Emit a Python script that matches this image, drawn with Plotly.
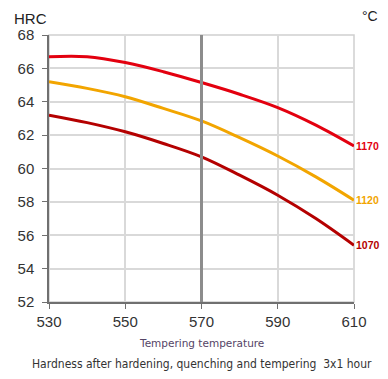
import plotly.graph_objects as go

temps = [530, 540, 550, 560, 570, 580, 590, 600, 610]
hrc_1170 = [66.7, 66.7, 66.35, 65.8, 65.15, 64.45, 63.65, 62.6, 61.35]
hrc_1120 = [65.2, 64.8, 64.3, 63.6, 62.85, 61.85, 60.75, 59.5, 58.1]
hrc_1070 = [63.2, 62.75, 62.2, 61.5, 60.7, 59.6, 58.4, 57.0, 55.4]
series = [("1170", hrc_1170, "#e3000f"), ("1120", hrc_1120, "#f2a500"), ("1070", hrc_1070, "#b40000")]
x_ticks = [530, 550, 570, 590, 610]
y_ticks = [52, 54, 56, 58, 60, 62, 64, 66, 68]

fig = go.Figure()
for name, vals, col in series:
    fig.add_trace(go.Scatter(x=temps, y=vals, mode="lines", line=dict(color=col, width=3, shape="spline"),
                             name=name, showlegend=False, hoverinfo="skip", cliponaxis=False))
    fig.add_annotation(x=temps[-1], y=vals[-1], text="<b>%s</b>" % name, showarrow=False,
                       xanchor="left", xshift=0, font=dict(color=col, size=10.5, family="Arial"))

fig.add_shape(type="line", x0=570, x1=570, y0=52, y1=68, xref="x", yref="y",
              line=dict(color="#8c8c8c", width=3), layer="above")

fig.add_annotation(xref="paper", yref="paper", x=-0.12, y=1.1, text="HRC", showarrow=False,
                   xanchor="left", yanchor="top", font=dict(size=15, color="#222", family="Arial"))
fig.add_annotation(xref="paper", yref="paper", x=1.02, y=1.035, text="°C", showarrow=False,
                   xanchor="left", yanchor="bottom", font=dict(size=14, color="#222", family="Arial"))
fig.add_annotation(xref="paper", yref="paper", x=0.5, y=-0.154, text="Tempering temperature", showarrow=False,
                   xanchor="center", yanchor="middle", font=dict(size=10.5, color="#554466", family="DejaVu Sans"))
fig.add_annotation(xref="paper", yref="paper", x=0.5, y=-0.234,
                   text="Hardness after hardening, quenching and tempering  3x1 hour",
                   showarrow=False, xanchor="center", yanchor="middle",
                   font=dict(size=12, color="#333",
                             family="DejaVu Sans Condensed, Liberation Sans Narrow, Roboto Condensed, sans-serif"))

fig.update_layout(
    width=372, height=363, margin=dict(l=41, r=26, t=27, b=69),
    plot_bgcolor="white", paper_bgcolor="white",
    xaxis=dict(range=[530, 610], tickvals=x_ticks, showgrid=True, gridcolor="#d9d9d9", gridwidth=1.5,
               showline=True, linecolor="#707070", linewidth=1.5, ticks="outside", ticklen=5, tickcolor="#707070",
               tickfont=dict(size=15, color="#333", family="Arial"), zeroline=False, automargin=False),
    yaxis=dict(range=[52, 68], tickvals=y_ticks, showgrid=True, gridcolor="#d9d9d9", gridwidth=1.5,
               showline=True, linecolor="#707070", linewidth=1.5, ticks="outside", ticklen=5, tickcolor="#707070",
               ticklabelstandoff=5,
               tickfont=dict(size=15, color="#333", family="Arial"), zeroline=False, automargin=False),
)
fig.add_shape(type="rect", xref="paper", yref="paper", x0=0, x1=1, y0=0, y1=1,
              line=dict(color="#d0d0d0", width=1.5), layer="below")
fig.write_html("out.html")
